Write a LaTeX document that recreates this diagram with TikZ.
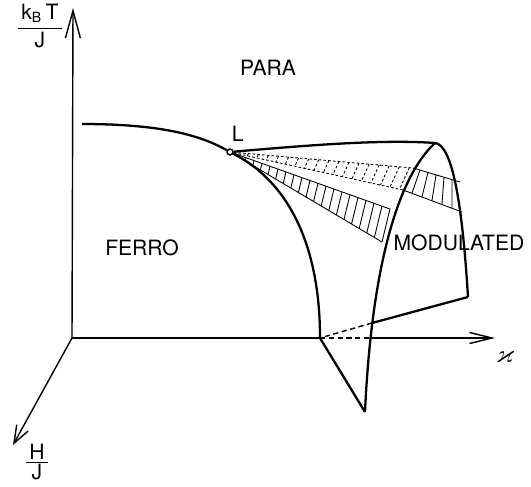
\documentclass[tikz,border=0pt]{standalone}
\usepackage{fontspec}
\setmainfont{TeX Gyre Heros}
\usepackage{amssymb}
\usetikzlibrary{arrows.meta,calc,positioning}
\tikzset{
    axis/.style={line width=0.8pt},
    phaseline/.style={line width=1.3pt},
    hatchline/.style={line width=0.5pt},
    hiddenline/.style={line width=0.5pt, dash pattern=on 1.5pt off 1.2pt},
    backline/.style={line width=0.8pt, dash pattern=on 3pt off 2pt},
    phase/.style={font=\fontsize{12}{14}\selectfont, inner sep=0pt}
}

\begin{document}
\begin{tikzpicture}[x=0.02cm,y=-0.02cm]
    \useasboundingbox (0,0) rectangle (531,487);

    % Axes
    \coordinate (O) at (72,338);
    \coordinate (Ttip) at (73,8);
    \coordinate (Ktip) at (495,338);
    \coordinate (Htip) at (13,445);
    \coordinate (Kfoot) at (320,338);
    \coordinate (Kback) at (370,338);
    \draw[axis, -{Straight Barb[length=5.5mm,width=3mm]}] (O) -- (Ttip);
    \draw[axis] (O) -- (Kfoot);
    \draw[backline] (Kfoot) -- (Kback);
    \draw[axis, -{Straight Barb[length=4.5mm,width=2.2mm]}] (Kback) -- (Ktip);
    \draw[axis, -{Straight Barb[length=3.5mm,width=2.6mm]}] (O) -- (Htip);

    % Axis labels
    \node[phase] (tlabel) at (40,26) {$\displaystyle\frac{\hbox{\,k\textsubscript{B}\,T\,}}{\hbox{J}}$};
    \node[phase] (hlabel) at (37,462) {$\textstyle\frac{\hbox{\,H\,}}{\hbox{J}}$};
    \node[phase] (klabel) at (505,357) {\Large$\varkappa$};

    % Lifshitz point
    \node[circle, draw, fill=white, inner sep=0pt, minimum size=0.12cm, line width=0.8pt] (L) at (230,152) {};
    \node[phase, above right=0.15cm and -0.02cm of L] (Llabel) {L};

    % Phase boundaries
    \coordinate (F0) at (82,124);
    \coordinate (Top) at (435,143);
    \coordinate (Rfoot) at (468,297);
    \coordinate (Bottom) at (365,412);
    \coordinate (Mfoot) at (372,323);
    \draw[phaseline] (F0) .. controls (160,124) and (200,135) .. (L);
    \draw[phaseline] (L) .. controls (285,180) and (320,240) .. (Kfoot);
    \draw[phaseline] (L) .. controls (300,146) and (380,139) .. (Top);
    \draw[phaseline] (Top) .. controls (452,145) and (462,200) .. (Rfoot);
    \draw[phaseline] (Top) .. controls (400,175) and (372,260) .. (Bottom);
    \draw[phaseline] (Kfoot) -- (Bottom);
    \draw[phaseline] (Rfoot) -- (Mfoot);
    \draw[backline] (Mfoot) -- (Kfoot);

    % Hatched sheets
    \coordinate (A1) at (390,209);
    \coordinate (B1) at (382,242);
    \coordinate (A2) at (413,168);
    \coordinate (B2) at (403,190);
    \coordinate (A3) at (460,182);
    \coordinate (B3) at (462,212);
    \draw[hatchline] (L) -- (A1);
    \draw[hatchline] (L) -- (B1);
    \foreach \t in {0.1,0.15,...,1.0} {
        \draw[hatchline] ($(L)!\t!(A1)$) -- ($(L)!\t!(B1)$);
    }
    \draw[hiddenline] (L) -- (A2);
    \draw[hiddenline] (L) -- (B2);
    \foreach \t in {0.1,0.155,...,1.0} {
        \draw[hiddenline] ($(L)!\t!(A2)$) -- ($(L)!\t!(B2)$);
    }
    \draw[hatchline] (A2) -- (A3);
    \draw[hatchline] (B2) -- (B3);
    \foreach \t in {0.15,0.32,...,1.0} {
        \draw[hatchline] ($(A2)!\t!(A3)$) -- ($(B2)!\t!(B3)$);
    }

    % Phase labels
    \node[phase] (para) at (268,68) {PARA};
    \node[phase] (ferro) at (142,248) {FERRO};
    \node[phase] (modulated) at (459,243) {MODULATED};
\end{tikzpicture}
\end{document}
